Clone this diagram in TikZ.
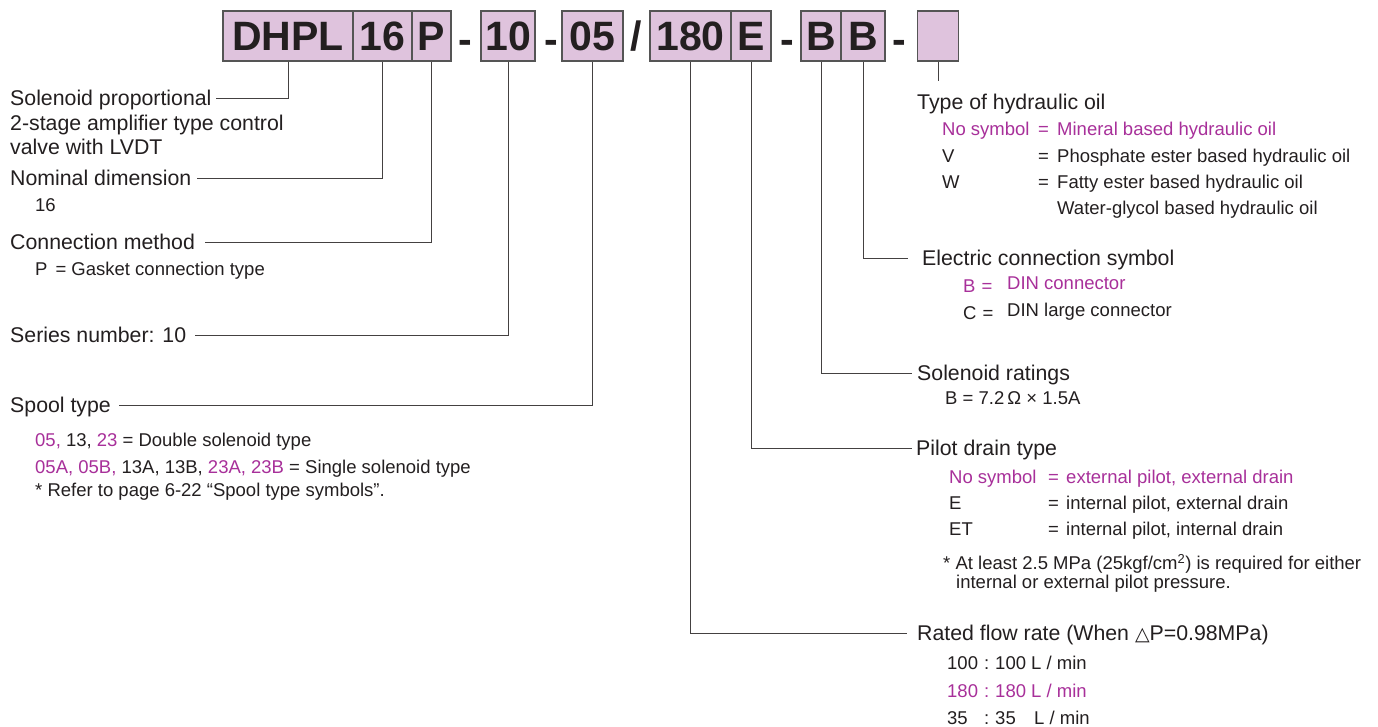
\documentclass[tikz,border=0pt]{standalone}
\usepackage{fontspec}
\setmainfont{Liberation Sans}
\newfontfamily\dejavu{DejaVu Sans}
\definecolor{ink}{HTML}{231F20}
\definecolor{mag}{HTML}{A8309A}
\definecolor{boxfill}{HTML}{DFC3DD}
\definecolor{boxline}{HTML}{555555}
\begin{document}
\begin{tikzpicture}[x=1pt,y=-1pt,
  codebox/.style={draw=boxline, line width=1.2pt, fill=boxfill, inner sep=0pt,
    minimum height=50pt, font=\fontsize{41}{41}\bfseries\selectfont, text=ink,
    text height=29.4pt, text depth=0pt},
  sep/.style={inner sep=0pt, font=\fontsize{41}{41}\bfseries\selectfont, text=ink,
    text height=29.4pt, text depth=0pt},
  hd/.style={anchor=west, inner sep=0pt, font=\fontsize{21.3}{24}\selectfont, text=ink,
    text height=15.25pt, text depth=0pt},
  sub/.style={anchor=west, inner sep=0pt, font=\fontsize{18.5}{20}\selectfont, text=ink,
    text height=13.25pt, text depth=0pt},
  msub/.style={sub, text=mag},
  lead/.style={draw=ink!85, line width=0.9pt}]
\fill[white] (0,0) rectangle (1378,727);
\useasboundingbox (0,0) rectangle (1378,727);

% code boxes
\node[codebox, minimum width=130pt] (dhpl) at (288,36) {DHPL};
\node[codebox, minimum width=59pt] (n16) at (382.5,36) {16};
\node[codebox, minimum width=39pt] (np) at (431.5,36) {P};
\node[sep] (d1) at (465,39) {-};
\node[codebox, minimum width=54pt] (n10) at (508,36) {10};
\node[sep] (d2) at (551,39) {-};
\node[codebox, minimum width=61pt] (n05) at (592.5,36) {05};
\node[sep] (sl) at (636,36) {/};
\node[codebox, minimum width=81pt] (n180) at (690.5,36) {180};
\node[codebox, minimum width=40pt] (nE) at (751,36) {E};
\node[sep] (d3) at (787,39) {-};
\node[codebox, minimum width=40pt] (nB1) at (821,36) {B};
\node[codebox, minimum width=44pt] (nB2) at (863,36) {B};
\node[sep] (d4) at (899,39) {-};
\node[codebox, minimum width=41pt] (nblank) at (938,36) {};

% left side
\node[hd] (h1) at (10,98) {Solenoid proportional};
\node[hd] (h1b) at (10,123) {2-stage amplifier type control};
\node[hd] (h1c) at (10,147) {valve with LVDT};
\node[hd] (hnom) at (10,178) {Nominal dimension};
\node[sub] (snom) at (35,205) {16};
\node[hd] (hconn) at (10,242) {Connection method};
\node[sub] (sconn) at (35,269) {P\hspace{8pt}= Gasket connection type};
\node[hd] (hser) at (10,335) {Series number: 10};
\node[hd] (hspool) at (10,405) {Spool type};
\node[sub] (sp1) at (35,440) {\textcolor{mag}{05,} 13, \textcolor{mag}{23} = Double solenoid type};
\node[sub] (sp2) at (35,467) {\textcolor{mag}{05A, 05B,} 13A, 13B, \textcolor{mag}{23A, 23B} = Single solenoid type};
\node[sub] (sp3) at (35,490) {* Refer to page 6-22 “Spool type symbols”.};

% right side: oil
\coordinate (oiltick) at (938,81);
\node[hd] (hoil) at (917,102) {Type of hydraulic oil};
\node[msub] (o1a) at (942,129) {No symbol};
\node[msub] (o1b) at (1038,129) {=};
\node[msub] (o1c) at (1057,129) {Mineral based hydraulic oil};
\node[sub] (o2a) at (942,156) {V};
\node[sub] (o2b) at (1038,156) {=};
\node[sub] (o2c) at (1057,156) {Phosphate ester based hydraulic oil};
\node[sub] (o3a) at (942,182) {W};
\node[sub] (o3b) at (1038,182) {=};
\node[sub] (o3c) at (1057,182) {Fatty ester based hydraulic oil};
\node[sub] (o4c) at (1057,208) {Water-glycol based hydraulic oil};

% electric connection
\node[hd] (helec) at (922,258) {Electric connection symbol};
\node[msub] (e1a) at (963,286) {B\,\,=};
\node[msub] (e1b) at (1007,283) {DIN connector};
\node[sub] (e2a) at (963,313) {C\,\,=};
\node[sub] (e2b) at (1007,310) {DIN large connector};

% solenoid ratings
\node[hd] (hsol) at (917,373) {Solenoid ratings};
\node[sub] (s1) at (945,398) {B = 7.2\,Ω × 1.5A};

% pilot drain
\node[hd] (hpilot) at (916,448) {Pilot drain type};
\node[msub] (p1a) at (949,477) {No symbol};
\node[msub] (p1b) at (1048,477) {=};
\node[msub] (p1c) at (1066,477) {external pilot, external drain};
\node[sub] (p2a) at (949,503) {E};
\node[sub] (p2b) at (1048,503) {=};
\node[sub] (p2c) at (1066,503) {internal pilot, external drain};
\node[sub] (p3a) at (949,529) {ET};
\node[sub] (p3b) at (1048,529) {=};
\node[sub] (p3c) at (1066,529) {internal pilot, internal drain};
\node[sub] (pn1) at (943,563) {* At least 2.5 MPa (25kgf/cm\textsuperscript{2}) is required for either};
\node[sub] (pn2) at (956,582) {internal or external pilot pressure.};

% rated flow
\node[hd] (hflow) at (917,633) {Rated flow rate (When {\dejavu\fontsize{19}{20}\selectfont △}P=0.98MPa)};
\node[sub] (f1a) at (947,663) {100};
\node[sub] (f1b) at (984,663) {:};
\node[sub] (f1c) at (995,663) {100 L / min};
\node[msub] (f2a) at (947,691) {180};
\node[msub] (f2b) at (984,691) {:};
\node[msub] (f2c) at (995,691) {180 L / min};
\node[sub] (f3a) at (947,718) {35};
\node[sub] (f3b) at (984,718) {:};
\node[sub] (f3c) at (995,718) {35};
\node[sub] (f3d) at (1034,718) {L / min};

% leaders
\draw[lead] (dhpl.south) |- ([xshift=4pt]h1.east);
\draw[lead] (n16.south) |- ([xshift=5pt]hnom.east);
\draw[lead] (np.south) |- ([xshift=10pt]hconn.east);
\draw[lead] (n10.south) |- ([xshift=9pt]hser.east);
\draw[lead] (n05.south) |- ([xshift=8pt]hspool.east);
\draw[lead] (n180.south) |- ([xshift=-10pt]hflow.west);
\draw[lead] (nE.south) |- ([xshift=-4pt]hpilot.west);
\draw[lead] (nB1.south) |- ([xshift=-5pt]hsol.west);
\draw[lead] (nB2.south) |- ([xshift=-14pt]helec.west);
\draw[lead] (nblank.south) -- (nblank.south |- oiltick);
\end{tikzpicture}
\end{document}
